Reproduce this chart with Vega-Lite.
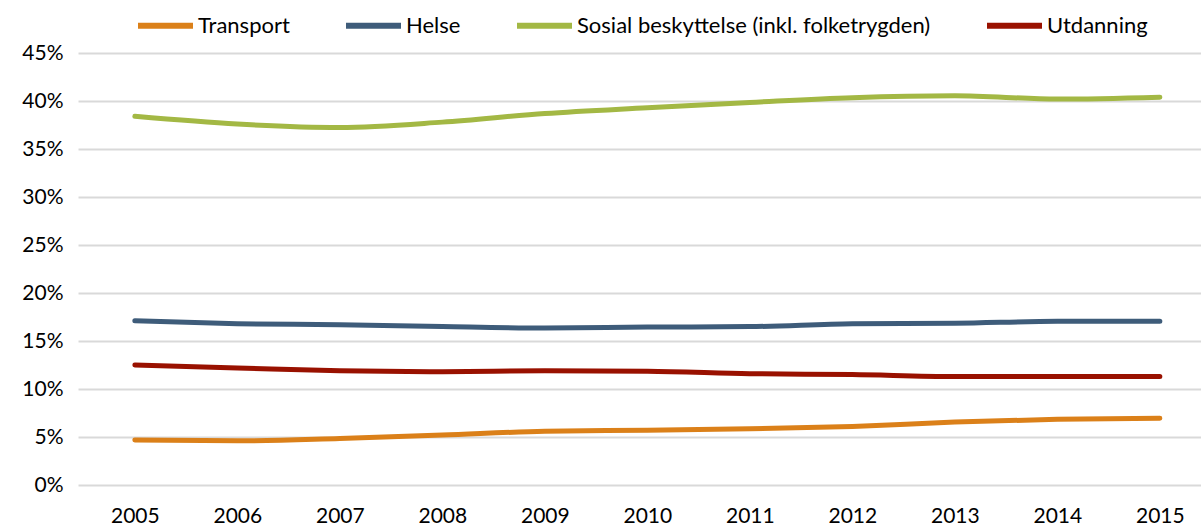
{
  "$schema": "https://vega.github.io/schema/vega-lite/v6.json",
  "autosize": "none",
  "width": 1123,
  "height": 432,
  "padding": {"left": 78, "top": 53, "right": 0, "bottom": 40},
  "background": "white",
  "config": {"view": {"stroke": null}, "font": "Lato"},
  "data": {"values": [
    {"year": "2005", "serie": "Transport", "v": 4.7},
    {"year": "2006", "serie": "Transport", "v": 4.6},
    {"year": "2007", "serie": "Transport", "v": 4.85},
    {"year": "2008", "serie": "Transport", "v": 5.2},
    {"year": "2009", "serie": "Transport", "v": 5.6},
    {"year": "2010", "serie": "Transport", "v": 5.7},
    {"year": "2011", "serie": "Transport", "v": 5.85},
    {"year": "2012", "serie": "Transport", "v": 6.1},
    {"year": "2013", "serie": "Transport", "v": 6.55},
    {"year": "2014", "serie": "Transport", "v": 6.85},
    {"year": "2015", "serie": "Transport", "v": 6.95},
    {"year": "2005", "serie": "Helse", "v": 17.1},
    {"year": "2006", "serie": "Helse", "v": 16.8},
    {"year": "2007", "serie": "Helse", "v": 16.7},
    {"year": "2008", "serie": "Helse", "v": 16.5},
    {"year": "2009", "serie": "Helse", "v": 16.35},
    {"year": "2010", "serie": "Helse", "v": 16.45},
    {"year": "2011", "serie": "Helse", "v": 16.5},
    {"year": "2012", "serie": "Helse", "v": 16.8},
    {"year": "2013", "serie": "Helse", "v": 16.85},
    {"year": "2014", "serie": "Helse", "v": 17.05},
    {"year": "2015", "serie": "Helse", "v": 17.05},
    {"year": "2005", "serie": "Sosial beskyttelse (inkl. folketrygden)", "v": 38.4},
    {"year": "2006", "serie": "Sosial beskyttelse (inkl. folketrygden)", "v": 37.6},
    {"year": "2007", "serie": "Sosial beskyttelse (inkl. folketrygden)", "v": 37.25},
    {"year": "2008", "serie": "Sosial beskyttelse (inkl. folketrygden)", "v": 37.8},
    {"year": "2009", "serie": "Sosial beskyttelse (inkl. folketrygden)", "v": 38.7},
    {"year": "2010", "serie": "Sosial beskyttelse (inkl. folketrygden)", "v": 39.3},
    {"year": "2011", "serie": "Sosial beskyttelse (inkl. folketrygden)", "v": 39.85},
    {"year": "2012", "serie": "Sosial beskyttelse (inkl. folketrygden)", "v": 40.35},
    {"year": "2013", "serie": "Sosial beskyttelse (inkl. folketrygden)", "v": 40.55},
    {"year": "2014", "serie": "Sosial beskyttelse (inkl. folketrygden)", "v": 40.2},
    {"year": "2015", "serie": "Sosial beskyttelse (inkl. folketrygden)", "v": 40.4},
    {"year": "2005", "serie": "Utdanning", "v": 12.5},
    {"year": "2006", "serie": "Utdanning", "v": 12.2},
    {"year": "2007", "serie": "Utdanning", "v": 11.9},
    {"year": "2008", "serie": "Utdanning", "v": 11.8},
    {"year": "2009", "serie": "Utdanning", "v": 11.9},
    {"year": "2010", "serie": "Utdanning", "v": 11.85},
    {"year": "2011", "serie": "Utdanning", "v": 11.6},
    {"year": "2012", "serie": "Utdanning", "v": 11.5},
    {"year": "2013", "serie": "Utdanning", "v": 11.3},
    {"year": "2014", "serie": "Utdanning", "v": 11.3},
    {"year": "2015", "serie": "Utdanning", "v": 11.3}
  ]},
  "mark": {"type": "line", "strokeWidth": 5, "strokeCap": "round", "interpolate": "monotone"},
  "encoding": {
    "x": {
      "field": "year", "type": "ordinal",
      "scale": {"type": "point", "padding": 0.478, "align": 0.58},
      "axis": {"title": null, "labelAngle": 0, "labelFontSize": 21, "labelColor": "#000000", "ticks": false, "domain": false, "labelPadding": 20, "grid": false}
    },
    "y": {
      "field": "v", "type": "quantitative",
      "scale": {"domain": [0, 45], "nice": false},
      "axis": {"title": null, "values": [0, 5, 10, 15, 20, 25, 30, 35, 40, 45], "labelExpr": "datum.value + '%'", "labelFontSize": 21, "labelColor": "#000000", "ticks": false, "domain": false, "labelPadding": 15, "gridColor": "#D9D9D9", "gridWidth": 2}
    },
    "color": {
      "field": "serie", "type": "nominal",
      "scale": {
        "domain": ["Transport", "Helse", "Sosial beskyttelse (inkl. folketrygden)", "Utdanning"],
        "range": ["#DB8019", "#3E5C7A", "#A3B844", "#991100"]
      },
      "legend": {
        "title": null, "orient": "none", "direction": "horizontal",
        "legendX": 57, "legendY": -58,
        "symbolType": "stroke", "symbolSize": 3025, "symbolStrokeWidth": 6,
        "labelFontSize": 22, "labelColor": "#000000", "labelOffset": 2,
        "columnPadding": 44, "labelLimit": 500
      }
    }
  }
}
